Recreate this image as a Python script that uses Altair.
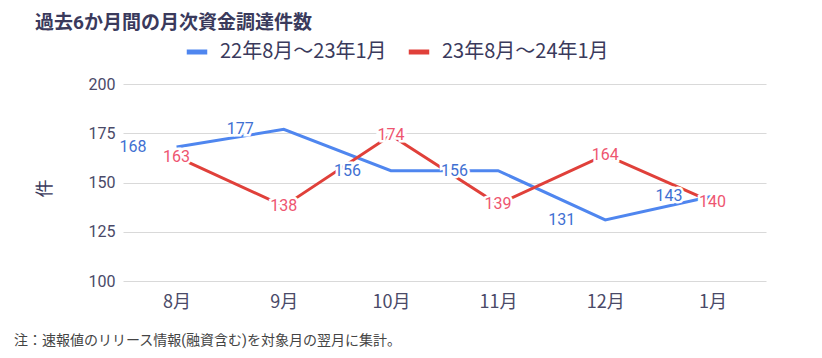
import altair as alt
import pandas as pd

months = ["8月", "9月", "10月", "11月", "12月", "1月"]
series_a = "22年8月～23年1月"
series_b = "23年8月～24年1月"
values_a = [168, 177, 156, 156, 131, 143]
values_b = [163, 138, 174, 139, 164, 140]
y_ticks = [100, 125, 150, 175, 200]
title_text = "過去6か月間の月次資金調達件数"
note_text = "注：速報値のリリース情報(融資含む)を対象月の翌月に集計。"
y_title = "件"

rows = []
for m, a, b in zip(months, values_a, values_b):
    rows.append({"month": m, "series": series_a, "value": a})
    rows.append({"month": m, "series": series_b, "value": b})
df = pd.DataFrame(rows)

FONT = "Roboto, Noto Sans CJK JP, sans-serif"
CJK = "Noto Sans CJK JP, sans-serif"
NAVY = "#3a3a5c"
LABEL = "#4a4a68"
BLUE = "#4F86EF"
RED = "#E0403A"
BLUE_T = "#3F70D2"
RED_T = "#EE5570"

x_enc = alt.X("month:N", sort=months, title=None,
              scale=alt.Scale(type="point", padding=0.5),
              axis=alt.Axis(labelAngle=0, domain=False, ticks=False, grid=False,
                            labelPadding=12, labelFontSize=18, labelColor=LABEL,
                            labelFont=CJK))
y_enc = alt.Y("value:Q", scale=alt.Scale(domain=[100, 200], nice=False, zero=False),
              axis=alt.Axis(values=y_ticks, domain=False, ticks=False, grid=True,
                            gridColor="#d9d9d9", gridWidth=1.2,
                            labelPadding=8, labelFontSize=16, labelColor=LABEL,
                            labelFont=FONT,
                            title=y_title, titleFont=CJK, titleFontSize=18,
                            titleColor=NAVY, titleFontWeight="normal",
                            titleX=-78, titleY=104, titleAngle=-90,
                            titleAlign="center", titleBaseline="middle"))

base = alt.Chart(df)

lines = base.mark_line(strokeWidth=3).encode(
    x=x_enc, y=y_enc,
    color=alt.Color("series:N", sort=[series_a, series_b],
                    scale=alt.Scale(domain=[series_a, series_b], range=[BLUE, RED]),
                    legend=alt.Legend(title=None, orient="none", legendX=61, legendY=-45,
                                      direction="horizontal", symbolType="stroke",
                                      symbolStrokeWidth=5, symbolSize=420,
                                      labelFontSize=20, labelColor=NAVY, labelFont=CJK,
                                      labelLimit=400,
                                      labelOffset=10, columnPadding=11, padding=0))
)

def labels(series, color, align, dx):
    b = base.transform_filter(alt.datum.series == series)
    enc = dict(x=alt.X("month:N", sort=months), y="value:Q", text="value:Q")
    halo = b.mark_text(align=align, dx=dx, baseline="middle", fontSize=16, font=FONT,
                       stroke="white", strokeWidth=5, fill="white").encode(**enc)
    txt = b.mark_text(align=align, dx=dx, baseline="middle", fontSize=16, font=FONT,
                      fill=color).encode(**enc)
    return halo + txt

note = alt.Chart(alt.Data(values=[{"t": note_text}])).mark_text(
    align="left", baseline="middle", fontSize=14, font=FONT, color="#444444"
).encode(x=alt.value(-109), y=alt.value(257), text="t:N")

chart = alt.layer(
    lines,
    labels(series_a, BLUE_T, "right", -30),
    labels(series_b, RED_T, "center", 0),
    note,
).properties(
    width=643, height=197,
    autosize=alt.AutoSizeParams(type="none"),
    padding={"left": 115, "top": 76, "right": 48, "bottom": 69},
    title=alt.TitleParams(title_text, anchor="start", frame="group", fontSize=19,
                          fontWeight="bold", color=NAVY, font=FONT, dx=-88, offset=6),
).configure_view(stroke=None)

chart.save("out.html", embed_options={"renderer": "svg", "actions": False})
